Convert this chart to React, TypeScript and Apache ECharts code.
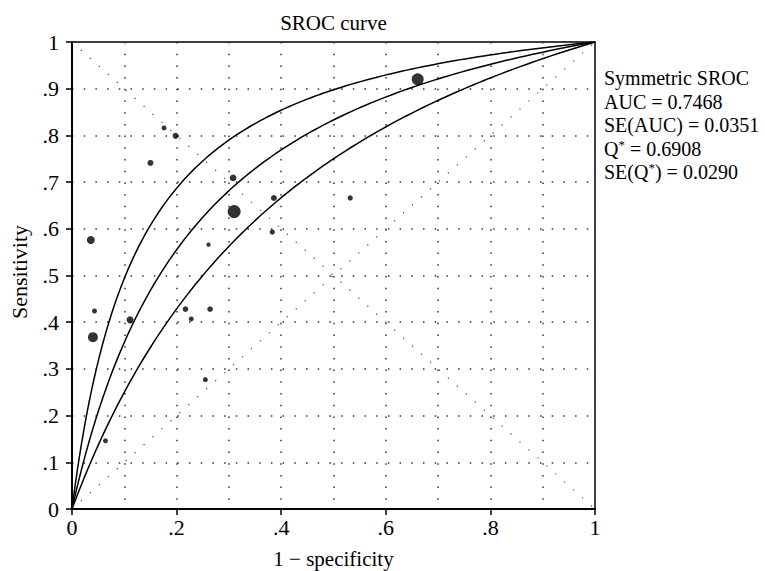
import React, { useEffect, useRef } from "react";
import * as echarts from "echarts";

// Study points: 1 - specificity (x), sensitivity (y), marker size (study weight, px)
const fpr = [0.661, 0.176, 0.198, 0.150, 0.308, 0.386, 0.532, 0.310, 0.036, 0.261, 0.383, 0.043, 0.111, 0.217, 0.228, 0.264, 0.040, 0.255, 0.064];
const sens = [0.920, 0.816, 0.799, 0.741, 0.709, 0.666, 0.666, 0.637, 0.576, 0.566, 0.593, 0.424, 0.405, 0.428, 0.407, 0.428, 0.368, 0.277, 0.146];
const weights = [12, 5, 6, 6, 6.7, 6, 5.3, 13, 8, 4.3, 5.3, 5, 7, 5.7, 5, 5.7, 10, 5, 5];

// Summary statistics (Symmetric SROC)
const statLines = [
  "Symmetric SROC",
  "AUC = 0.7468",
  "SE(AUC) = 0.0351",
  "Q{s|*} = 0.6908",
  "SE(Q{s|*}) = 0.0290",
];
const qStar = 0.6908;
const seQ = 0.029;

const axisTicks = [0, 0.2, 0.4, 0.6, 0.8, 1];

const FONT = "'Liberation Serif', 'DejaVu Serif', serif";

function logit(p: number) {
  return Math.log(p / (1 - p));
}

function srocCurve(q: number): number[][] {
  const a = 2 * logit(q);
  const pts: number[][] = [];
  const N = 160;
  for (let i = 0; i <= N; i++) {
    const x = Math.pow(i / N, 2);
    let y: number;
    if (x <= 0) y = 0;
    else if (x >= 1) y = 1;
    else y = 1 / (1 + Math.exp(-(a + logit(x))));
    pts.push([x, y]);
  }
  return pts;
}

function fmt(v: number) {
  if (Math.abs(v) < 1e-9) return "0";
  if (Math.abs(v - 1) < 1e-9) return "1";
  return String(Number(v.toFixed(1))).replace(/^0/, "");
}

export default function App() {
  const ref = useRef<HTMLDivElement>(null);
  useEffect(() => {
    if (!ref.current) return;
    const chart = echarts.init(ref.current, undefined, { renderer: "svg" });
    const dotted = { color: "#333", width: 1.5, type: [1.5, 10.2] as any };
    const diag = { color: "#444", width: 1.2, type: [1.2, 10.8] as any };
    const qs = [qStar + 1.96 * seQ, qStar, qStar - 1.96 * seQ];
    const option: any = {
      animation: false,
      backgroundColor: "#fff",
      textStyle: { fontFamily: FONT },
      grid: {
        left: 72,
        right: 170,
        top: 42,
        bottom: 62,
        show: true,
        borderColor: "#000",
        borderWidth: 1.5,
        backgroundColor: "transparent",
      },
      xAxis: {
        type: "value",
        min: 0,
        max: 1,
        interval: 0.2,
        axisLine: { show: true, onZero: false, lineStyle: { color: "#000", width: 2 } },
        axisTick: { show: true, length: 6, lineStyle: { color: "#000", width: 1.5 } },
        axisLabel: {
          margin: 7,
          color: "#000",
          fontFamily: FONT,
          fontSize: 22,
          formatter: (v: number) => (axisTicks.some((t) => Math.abs(t - v) < 1e-9) ? fmt(v) : ""),
        },
        splitLine: { show: true, lineStyle: dotted },
        minorTick: { show: false, splitNumber: 2 },
        minorSplitLine: { show: true, lineStyle: dotted },
      },
      yAxis: {
        type: "value",
        min: 0,
        max: 1,
        interval: 0.1,
        axisLine: { show: true, onZero: false, lineStyle: { color: "#000", width: 2 } },
        axisTick: { show: true, length: 6, lineStyle: { color: "#000", width: 1.5 } },
        axisLabel: {
          margin: 13,
          color: "#000",
          fontFamily: FONT,
          fontSize: 22,
          formatter: (v: number) => fmt(v),
        },
        splitLine: { show: true, lineStyle: dotted },
      },
      graphic: [
        {
          type: "text",
          x: 333.5,
          y: 23,
          style: { text: "SROC curve", fontFamily: FONT, fontSize: 21, fill: "#000", align: "center", verticalAlign: "middle" },
        },
        {
          type: "text",
          x: 333.5,
          y: 559,
          style: { text: "1 − specificity", fontFamily: FONT, fontSize: 21, fill: "#000", align: "center", verticalAlign: "middle" },
        },
        {
          type: "text",
          x: 19,
          y: 272,
          rotation: Math.PI / 2,
          style: { text: "Sensitivity", fontFamily: FONT, fontSize: 22, fill: "#000", align: "center", verticalAlign: "middle" },
        },
        ...statLines.map((t, i) => ({
          type: "text",
          x: 604,
          y: 78 + i * 23.6,
          style: {
            text: t,
            fontFamily: FONT,
            fontSize: 20,
            fill: "#000",
            align: "left",
            verticalAlign: "middle",
            rich: {
              s: { fontFamily: FONT, fontSize: 13, fill: "#000", padding: [0, 0, 9, 0] },
            },
          },
        })),
      ],
      series: [
        {
          type: "line",
          data: [[0, 0], [1, 1]],
          symbol: "none",
          lineStyle: diag,
          silent: true,
        },
        {
          type: "line",
          data: [[0, 1], [1, 0]],
          symbol: "none",
          lineStyle: diag,
          silent: true,
        },
        ...qs.map((q) => ({
          type: "line",
          data: srocCurve(q),
          symbol: "none",
          smooth: false,
          lineStyle: { color: "#000", width: 1.5 },
          silent: true,
        })),
        {
          type: "scatter",
          data: fpr.map((x, i) => [x, sens[i], weights[i]]),
          symbolSize: (v: number[]) => v[2],
          itemStyle: { color: "#000" },
          z: 5,
        },
      ],
    };
    chart.setOption(option);
    return () => chart.dispose();
  }, []);
  return <div ref={ref} style={{ width: 765, height: 571, position: "absolute", left: 0, top: 0 }} />;
}
